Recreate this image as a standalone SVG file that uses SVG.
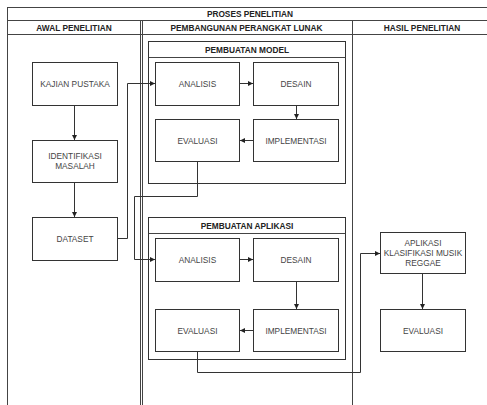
<svg xmlns="http://www.w3.org/2000/svg" width="487" height="405" viewBox="0 0 487 405">
<style>
text{font-family:"Liberation Sans",Arial,sans-serif;text-anchor:middle;dominant-baseline:central}
.t{font-size:8.3px;fill:#444}
.h{font-size:8.3px;fill:#222;font-weight:bold}
.box{fill:#fff;stroke:#333;stroke-width:1}
.lane{fill:none;stroke:#444;stroke-width:1}
.c{fill:none;stroke:#333;stroke-width:1;marker-end:url(#a)}
.cn{fill:none;stroke:#333;stroke-width:1}
</style>
<defs>
<marker id="a" markerWidth="6" markerHeight="6" refX="5" refY="3" orient="auto" markerUnits="userSpaceOnUse">
<path d="M0,0.5 L5,3 L0,5.5 Z" fill="#222"/>
</marker>
</defs>
<rect width="487" height="405" fill="#fff"/>
<g id="pool">
<rect class="lane" x="7.5" y="7.5" width="486" height="410"/>
<line class="lane" x1="7.5" y1="20.5" x2="493.5" y2="20.5"/>
<line class="lane" x1="7.5" y1="34.5" x2="493.5" y2="34.5"/>
<line class="lane" x1="140.5" y1="20.5" x2="140.5" y2="410" stroke="#666"/>
<line class="lane" x1="142.5" y1="20.5" x2="142.5" y2="410" stroke="#666"/>
<line class="lane" x1="352.5" y1="20.5" x2="352.5" y2="410"/>
<text class="h" x="250" y="14">PROSES PENELITIAN</text>
<text class="h" x="74" y="27.5">AWAL PENELITIAN</text>
<text class="h" x="246.5" y="27.5">PEMBANGUNAN PERANGKAT LUNAK</text>
<text class="h" x="422" y="27.5">HASIL PENELITIAN</text>
</g>
<g id="model">
<rect class="box" x="148.5" y="41.5" width="197" height="142"/>
<line class="lane" x1="148.5" y1="57.5" x2="345.5" y2="57.5"/>
<text class="h" x="247" y="49.5">PEMBUATAN MODEL</text>
</g>
<g id="aplikasi">
<rect class="box" x="148.5" y="217.5" width="197" height="142"/>
<line class="lane" x1="148.5" y1="233.5" x2="345.5" y2="233.5"/>
<text class="h" x="247" y="225.5">PEMBUATAN APLIKASI</text>
</g>
<g id="kajian"><rect class="box" x="32.5" y="62.5" width="85" height="43"/><text class="t" x="75" y="84">KAJIAN PUSTAKA</text></g>
<g id="identifikasi"><rect class="box" x="32.5" y="140.5" width="85" height="42"/><text class="t" x="75" y="156">IDENTIFIKASI</text><text class="t" x="75" y="166">MASALAH</text></g>
<g id="dataset"><rect class="box" x="32.5" y="217.5" width="85" height="43"/><text class="t" x="75" y="239">DATASET</text></g>
<g id="m_analisis"><rect class="box" x="155.5" y="62.5" width="84" height="43"/><text class="t" x="197.5" y="84">ANALISIS</text></g>
<g id="m_desain"><rect class="box" x="253.5" y="62.5" width="85" height="43"/><text class="t" x="296" y="84">DESAIN</text></g>
<g id="m_evaluasi"><rect class="box" x="155.5" y="119.5" width="84" height="42"/><text class="t" x="197.5" y="140.5">EVALUASI</text></g>
<g id="m_implementasi"><rect class="box" x="253.5" y="119.5" width="85" height="42"/><text class="t" x="296" y="140.5">IMPLEMENTASI</text></g>
<g id="a_analisis"><rect class="box" x="155.5" y="238.5" width="84" height="43"/><text class="t" x="197.5" y="260">ANALISIS</text></g>
<g id="a_desain"><rect class="box" x="253.5" y="238.5" width="85" height="43"/><text class="t" x="296" y="260">DESAIN</text></g>
<g id="a_evaluasi"><rect class="box" x="155.5" y="309.5" width="84" height="42"/><text class="t" x="197.5" y="330.5">EVALUASI</text></g>
<g id="a_implementasi"><rect class="box" x="253.5" y="309.5" width="85" height="42"/><text class="t" x="296" y="330.5">IMPLEMENTASI</text></g>
<g id="hasil_aplikasi"><rect class="box" x="380.5" y="232.5" width="85" height="41"/><text class="t" x="423" y="243">APLIKASI</text><text class="t" x="423" y="253">KLASIFIKASI MUSIK</text><text class="t" x="423" y="263">REGGAE</text></g>
<g id="hasil_evaluasi"><rect class="box" x="380.5" y="309.5" width="85" height="42"/><text class="t" x="423" y="330.5">EVALUASI</text></g>
<g id="connectors">
<path class="c" d="M74.5,105.5 V140"/>
<path class="c" d="M74.5,182.5 V217"/>
<path class="c" d="M117.5,238.5 H127.5 V83.5 H155"/>
<path class="c" d="M239.5,83.5 H253"/>
<path class="c" d="M296.5,105.5 V119"/>
<path class="c" d="M253.5,140.5 H240"/>
<path class="c" d="M197.5,161.5 V196.5 H134.5 V259.5 H155"/>
<path class="c" d="M239.5,259.5 H253"/>
<path class="c" d="M296.5,281.5 V309"/>
<path class="c" d="M253.5,330.5 H240"/>
<path class="c" d="M197.5,351.5 V372.5 H360.5 V253.5 H380"/>
<path class="c" d="M422.5,273.5 V309"/>
</g>
</svg>
